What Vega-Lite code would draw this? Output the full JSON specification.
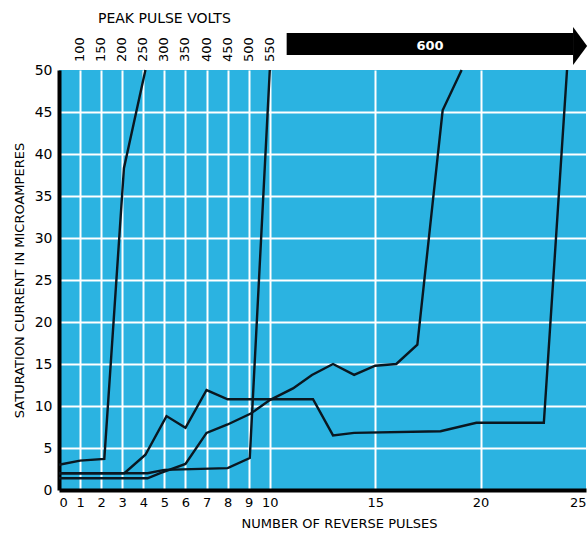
{
  "$schema": "https://vega.github.io/schema/vega-lite/v6.json",
  "padding": {"left": 13, "top": 12, "right": 0, "bottom": 0},
  "background": "white",
  "spacing": 0,
  "bounds": "flush",
  "config": {"view": {"stroke": null}, "font": "DejaVu Sans", "concat": {"spacing": 0}},
  "resolve": {"scale": {"x": "independent", "y": "independent"}},
  "vconcat": [
    {
      "width": 527,
      "height": 58,
      "layer": [
        {
          "data": {"values": [
            {"pulses": 1, "volts": "100"}, {"pulses": 2, "volts": "150"}, {"pulses": 3, "volts": "200"},
            {"pulses": 4, "volts": "250"}, {"pulses": 5, "volts": "300"}, {"pulses": 6, "volts": "350"},
            {"pulses": 7, "volts": "400"}, {"pulses": 8, "volts": "450"}, {"pulses": 9, "volts": "500"},
            {"pulses": 10, "volts": "550"}
          ]},
          "mark": {"type": "text", "angle": 270, "align": "left", "baseline": "middle", "fontSize": 13, "color": "black"},
          "encoding": {
            "x": {"field": "pulses", "type": "quantitative", "scale": {"domain": [0, 25], "nice": false, "zero": false}, "axis": null},
            "y": {"datum": 8, "type": "quantitative", "scale": {"domain": [0, 58], "nice": false, "zero": false}, "axis": null},
            "text": {"field": "volts"}
          }
        },
        {
          "data": {"values": [{"from": 10.8, "to": 24.4, "mid": 17.6, "tip": 24.72, "volts": "600"}]},
          "layer": [
            {
              "mark": {"type": "rect", "color": "black"},
              "encoding": {
                "x": {"field": "from", "type": "quantitative"},
                "x2": {"field": "to"},
                "y": {"datum": 15, "type": "quantitative"},
                "y2": {"datum": 37}
              }
            },
            {
              "mark": {"type": "point", "shape": "M-0.37,-1L0.37,0L-0.37,1Z", "filled": true, "color": "black", "opacity": 1, "size": 1444, "strokeWidth": 0},
              "encoding": {
                "x": {"field": "tip", "type": "quantitative"},
                "y": {"datum": 24, "type": "quantitative"}
              }
            },
            {
              "mark": {"type": "text", "color": "white", "fontSize": 13, "fontWeight": "bold", "baseline": "middle", "align": "center"},
              "encoding": {
                "x": {"field": "mid", "type": "quantitative"},
                "y": {"datum": 24, "type": "quantitative"},
                "text": {"field": "volts"}
              }
            }
          ]
        },
        {
          "data": {"values": [{"title": "PEAK PULSE VOLTS"}]},
          "mark": {"type": "text", "fontSize": 14, "color": "black", "baseline": "middle", "align": "center"},
          "encoding": {
            "x": {"datum": 5, "type": "quantitative"},
            "y": {"datum": 51, "type": "quantitative"},
            "text": {"field": "title"}
          }
        }
      ]
    },
    {
      "width": 527,
      "height": 420,
      "view": {"fill": "#2bb3e1", "stroke": null},
      "data": {"values": [
        {"curve": "A", "pulses": 0, "current": 3.0},
        {"curve": "A", "pulses": 1, "current": 3.5},
        {"curve": "A", "pulses": 2.15, "current": 3.7},
        {"curve": "A", "pulses": 3.08, "current": 38.3},
        {"curve": "A", "pulses": 4.1, "current": 50},
        {"curve": "B", "pulses": 0, "current": 2.0},
        {"curve": "B", "pulses": 4.2, "current": 2.0},
        {"curve": "B", "pulses": 5, "current": 2.4},
        {"curve": "B", "pulses": 8, "current": 2.6},
        {"curve": "B", "pulses": 9.05, "current": 3.8},
        {"curve": "B", "pulses": 10, "current": 50},
        {"curve": "C", "pulses": 0, "current": 2.0},
        {"curve": "C", "pulses": 3.1, "current": 2.0},
        {"curve": "C", "pulses": 4.1, "current": 4.2},
        {"curve": "C", "pulses": 5.1, "current": 8.8},
        {"curve": "C", "pulses": 6, "current": 7.4},
        {"curve": "C", "pulses": 7, "current": 11.9},
        {"curve": "C", "pulses": 8, "current": 10.8},
        {"curve": "C", "pulses": 12.05, "current": 10.8},
        {"curve": "C", "pulses": 13, "current": 6.5},
        {"curve": "C", "pulses": 14, "current": 6.8},
        {"curve": "C", "pulses": 18.1, "current": 7.0},
        {"curve": "C", "pulses": 19.8, "current": 8.0},
        {"curve": "C", "pulses": 23, "current": 8.0},
        {"curve": "C", "pulses": 24.1, "current": 50},
        {"curve": "D", "pulses": 0, "current": 1.4},
        {"curve": "D", "pulses": 4.2, "current": 1.4},
        {"curve": "D", "pulses": 4.8, "current": 2.0},
        {"curve": "D", "pulses": 6, "current": 3.1},
        {"curve": "D", "pulses": 7, "current": 6.8},
        {"curve": "D", "pulses": 8, "current": 7.8},
        {"curve": "D", "pulses": 9.1, "current": 9.1},
        {"curve": "D", "pulses": 10, "current": 10.7},
        {"curve": "D", "pulses": 11.1, "current": 12.1},
        {"curve": "D", "pulses": 12, "current": 13.7},
        {"curve": "D", "pulses": 13, "current": 15.0},
        {"curve": "D", "pulses": 14, "current": 13.7},
        {"curve": "D", "pulses": 15, "current": 14.8},
        {"curve": "D", "pulses": 16, "current": 15.0},
        {"curve": "D", "pulses": 17, "current": 17.3},
        {"curve": "D", "pulses": 18.2, "current": 45.2},
        {"curve": "D", "pulses": 19.1, "current": 50}
      ]},
      "mark": {"type": "line", "strokeWidth": 2.4, "color": "#0a1720", "strokeJoin": "miter"},
      "encoding": {
        "x": {
          "field": "pulses", "type": "quantitative",
          "scale": {"domain": [0, 25], "nice": false, "zero": false},
          "axis": {
            "title": "NUMBER OF REVERSE PULSES",
            "values": [0, 1, 2, 3, 4, 5, 6, 7, 8, 9, 10, 15, 20, 25],
            "grid": true, "gridColor": "white", "gridWidth": 2,
            "gridOpacity": {"condition": {"test": "datum.value == 0 || datum.value == 25", "value": 0}, "value": 1},
            "domainColor": "black", "domainWidth": 4, "ticks": false,
            "labelFontSize": 13, "labelColor": "black", "labelPadding": 6, "labelOverlap": false,
            "titleFontSize": 13, "titleFontWeight": "normal", "titleColor": "black", "titlePadding": 8,
            "titleX": 280
          }
        },
        "y": {
          "field": "current", "type": "quantitative",
          "scale": {"domain": [0, 50], "nice": false},
          "axis": {
            "title": "SATURATION CURRENT IN MICROAMPERES",
            "values": [0, 5, 10, 15, 20, 25, 30, 35, 40, 45, 50],
            "grid": true, "gridColor": "white", "gridWidth": 2,
            "gridOpacity": {"condition": {"test": "datum.value == 0 || datum.value == 50", "value": 0}, "value": 1},
            "domainColor": "black", "domainWidth": 4, "ticks": false,
            "labelFontSize": 14, "labelColor": "black", "labelPadding": 7, "labelOverlap": false,
            "titleFontSize": 13, "titleFontWeight": "normal", "titleColor": "black", "titlePadding": 8
          }
        },
        "detail": {"field": "curve", "type": "nominal"}
      }
    }
  ]
}
